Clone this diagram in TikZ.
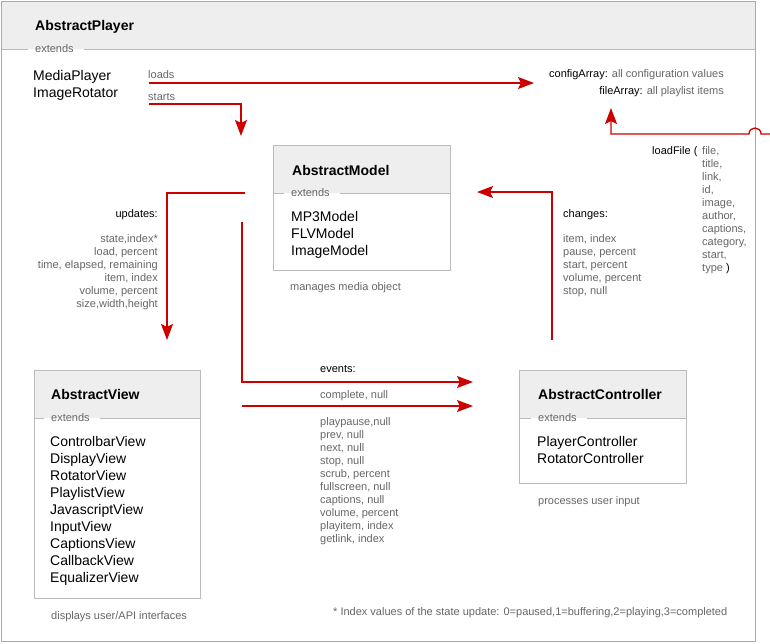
\documentclass[tikz,border=0pt]{standalone}
\usepackage{fontspec}
\setmainfont{Liberation Sans}
\usetikzlibrary{arrows.meta}
\definecolor{redc}{HTML}{CC0000}
\definecolor{txtgray}{HTML}{666666}
\definecolor{hdrfill}{HTML}{EEEEEE}
\definecolor{boxline}{HTML}{BBBBBB}
\definecolor{frameline}{HTML}{AAAAAA}
\newcommand\hdrsep[4]{%
  \path (#1.west) ++(-7,0) coordinate (#1-l) (#1.east) ++(10,0) coordinate (#1-r);
  \coordinate (#1-y) at (0,#4);
  \draw[sepline] (#2,#4) -- (#1-l |- #1-y) (#1-r |- #1-y) -- (#3,#4);}
\begin{document}
\begin{tikzpicture}[x=1pt,y=-1pt,
  title/.style={font=\bfseries\fontsize{14}{16}\selectfont, anchor=base west, inner sep=0pt, text=black},
  item/.style={font=\fontsize{14}{16}\selectfont, anchor=base west, inner sep=0pt, text=black},
  small/.style={font=\fontsize{11}{13}\selectfont, anchor=base west, inner sep=0pt, text=txtgray},
  smallr/.style={small, anchor=base east},
  lbl/.style={small, text=black},
  ext/.style={small},
  boxborder/.style={draw=boxline, line width=0.9pt},
  sepline/.style={draw=boxline, line width=0.9pt},
  hdr/.style={fill=hdrfill},
  conn/.style={draw=redc, line width=1.3pt, -{Stealth[length=16pt,width=12pt,inset=3pt]}},
  plain/.style={draw=redc, line width=1.3pt}]
\useasboundingbox (0,0) rectangle (770,643);

% ---------- outer frame / AbstractPlayer ----------
\fill[hdr] (1.5,1.5) rectangle (755,49);
\draw[draw=frameline, line width=0.9pt] (1.5,1.5) rectangle (755,641);
\node[title] (player) at (35,30) {AbstractPlayer};
\node[ext] (pext) at (35,52.5) {extends};
\hdrsep{pext}{1.5}{755}{49}
\node[item] (mediaplayer) at (33,80) {MediaPlayer};
\node[item] (imagerotator) at (33,97) {ImageRotator};
\node[small] (loads) at (148,78) {loads};
\node[small] (starts) at (148,100) {starts};
\node[small, anchor=base east] (config) at (724,77) {\textcolor{black}{configArray:} all configuration values};
\node[small, anchor=base east] (filearr) at (724,94) {\textcolor{black}{fileArray:} all playlist items};

% loadFile
\node[lbl] (loadfile) at (652,154) {loadFile (};
\foreach \t [count=\i from 0] in {{file,},{title,},{link,},{id,},{image,},{author,},{captions,},{category,},{start,}}
  \node[small] (lf\i) at (702,{154+13.1*\i}) {\t};
\node[small] (lf9) at (702,{154+13.1*9}) {type \textcolor{black}{)}};

% ---------- AbstractModel ----------
\fill[hdr] (273,145) rectangle (450,193);
\node[boxborder, anchor=north west, minimum width=177pt, minimum height=125pt, inner sep=0pt] (model) at (273,145) {};
\node[title] (modelt) at (292,175) {AbstractModel};
\node[ext] (mext) at (291,196.5) {extends};
\hdrsep{mext}{273}{450}{193}
\node[item] (mp3) at (291,221) {MP3Model};
\node[item] (flv) at (291,238) {FLVModel};
\node[item] (img) at (291,255) {ImageModel};
\node[small] (manages) at (290,290) {manages media object};

% ---------- AbstractView ----------
\fill[hdr] (34,370) rectangle (200,418);
\node[boxborder, anchor=north west, minimum width=166pt, minimum height=228pt, inner sep=0pt] (view) at (34,370) {};
\node[title] (viewt) at (51,399) {AbstractView};
\node[ext] (vext) at (51,421) {extends};
\hdrsep{vext}{34}{200}{418}
\foreach \t [count=\i from 0] in {ControlbarView,DisplayView,RotatorView,PlaylistView,JavascriptView,InputView,CaptionsView,CallbackView,EqualizerView}
  \node[item] (v\i) at (50,{446+17*\i}) {\t};
\node[small] (displays) at (51,619) {displays user/API interfaces};

% ---------- AbstractController ----------
\fill[hdr] (519,370) rectangle (686,418);
\node[boxborder, anchor=north west, minimum width=167pt, minimum height=113pt, inner sep=0pt] (ctrl) at (519,370) {};
\node[title] (ctrlt) at (538,399) {AbstractController};
\node[ext] (cext) at (538,421) {extends};
\hdrsep{cext}{519}{686}{418}
\node[item] (pc) at (537,446) {PlayerController};
\node[item] (rc) at (537,463) {RotatorController};
\node[small] (processes) at (538,504) {processes user input};

% ---------- updates ----------
\node[lbl, anchor=base east] (updates) at (158,217) {updates:};
\foreach \t [count=\i from 0] in {{state,index*},{load, percent},{time, elapsed, remaining},{item, index},{volume, percent},{size,width,height}}
  \node[smallr] (up\i) at (158,{242+13*\i}) {\t};

% ---------- changes ----------
\node[lbl] (changes) at (563,217) {changes:};
\foreach \t [count=\i from 0] in {{item, index},{pause, percent},{start, percent},{volume, percent},{stop, null}}
  \node[small] (ch\i) at (563,{242+13*\i}) {\t};

% ---------- events ----------
\node[lbl] (events) at (320,372) {events:};
\node[small] (complete) at (320,398) {complete, null};
\foreach \t [count=\i from 0] in {{playpause,null},{prev, null},{next, null},{stop, null},{scrub, percent},{fullscreen, null},{captions, null},{volume, percent},{playitem, index},{getlink, index}}
  \node[small] (ev\i) at (320,{425+13.1*\i}) {\t};

% footnote
\node[small] (note) at (333,615) {* Index values of the state update: 0=paused,1=buffering,2=playing,3=completed};

% ---------- connectors ----------
\coordinate (l0) at (149,83);  \coordinate (l1) at (534,83);
\coordinate (s0) at (149,104); \coordinate (s1) at (241,136);
\coordinate (f0) at (770,134); \coordinate (h1) at (761,134); \coordinate (h2) at (749,134);
\coordinate (f1) at (611,108);
\coordinate (u0) at (245,193); \coordinate (u1) at (167,340);
\coordinate (e0) at (242,222); \coordinate (e1) at (473,382);
\coordinate (e2) at (242,406); \coordinate (e3) at (473,406);
\coordinate (c0) at (552,340); \coordinate (c1) at (477,192);

\draw[conn] (l0) -- (l1);
\draw[conn] (s0) -| (s1);
\draw[conn] (f0) -- (h1) .. controls +(0,-8) and +(0,-8) .. (h2) -| (f1);
\draw[conn] (u0) -| (u1);
\draw[conn] (e0) |- (e1);
\draw[conn] (e2) -- (e3);
\draw[conn] (c0) |- (c1);
\end{tikzpicture}
\end{document}
